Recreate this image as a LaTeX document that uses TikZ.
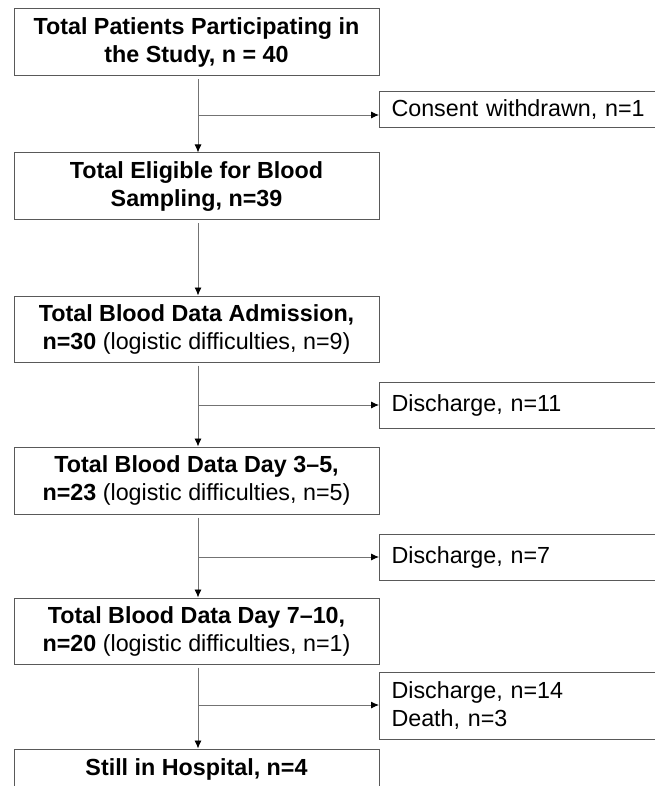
\documentclass[tikz,border=0pt]{standalone}
\usepackage{fontspec}
\setmainfont{Liberation Sans}
\usetikzlibrary{arrows.meta}
\tikzset{
    MB/.style ={rectangle, draw=black!65, line width=1pt, minimum width=365pt, minimum height=67pt, align=center, inner sep=0pt},
    SB/.style ={rectangle, draw=black!65, line width=1pt, anchor=west, align=left, text width=266pt, inner xsep=12pt, inner ysep=0pt},
    LN/.style ={draw=black!55, line width=0.9pt},
    AR/.style ={LN, -{Latex[length=8pt,width=7pt,black]}}}

\begin{document}
\begin{tikzpicture}
        [x=1pt, y=-1pt,
        every node/.append style={font=\fontsize{23.3}{28}\selectfont}]
        \clip (0,0) rectangle (655,786);
        \fill[white] (0,0) rectangle (655,786);
        % main column
        \node[MB] (tp) at (196.5,42.5) {\textbf{Total Patients Participating in}\\\textbf{the Study, n = 40}};
        \node[MB] (el) at (196.5,186.5) {\textbf{Total Eligible for Blood}\\\textbf{Sampling, n=39}};
        \node[MB, minimum height=66pt] (ad) at (196.5,329) {\textbf{Total Blood Data Admission,}\\\textbf{n=30} (logistic difficulties, n=9)};
        \node[MB] (d35) at (196.5,480.5) {\textbf{Total Blood Data Day 3–5,}\\\textbf{n=23} (logistic difficulties, n=5)};
        \node[MB, minimum height=66pt] (d710) at (196.5,631) {\textbf{Total Blood Data Day 7–10,}\\\textbf{n=20} (logistic difficulties, n=1)};
        \node[MB, minimum height=40pt] (sh) at (196.5,769) {\textbf{Still in Hospital, n=4}};
        % side boxes
        \node[SB, minimum height=36pt] (cw) at (379,110) {Consent withdrawn, n=1};
        \node[SB, minimum height=46pt] (ds1) at (379,405) {Discharge, n=11};
        \node[SB, minimum height=46pt] (ds2) at (379,557) {Discharge, n=7};
        \node[SB, minimum height=67pt] (ds3) at (379,705.5) {Discharge, n=14\\Death, n=3};
        % branch points
        \coordinate (b1) at (198,115);
        \coordinate (b2) at (198,405);
        \coordinate (b3) at (198,557);
        \coordinate (b4) at (198,705);
        % connectors
        \draw[AR] ([xshift=1.5pt,yshift=-3pt]tp.south) -- ([xshift=1.5pt]el.north);
        \draw[AR] ([xshift=1.5pt,yshift=-3pt]el.south) -- ([xshift=1.5pt]ad.north);
        \draw[AR] ([xshift=1.5pt,yshift=-3pt]ad.south) -- ([xshift=1.5pt]d35.north);
        \draw[AR] ([xshift=1.5pt,yshift=-3pt]d35.south) -- ([xshift=1.5pt]d710.north);
        \draw[AR] ([xshift=1.5pt,yshift=-3pt]d710.south) -- ([xshift=1.5pt]sh.north);
        \draw[AR] (b1) -- (b1 -| cw.west);
        \draw[AR] (b2) -- (b2 -| ds1.west);
        \draw[AR] (b3) -- (b3 -| ds2.west);
        \draw[AR] (b4) -- (b4 -| ds3.west);
\end{tikzpicture}
\end{document}
